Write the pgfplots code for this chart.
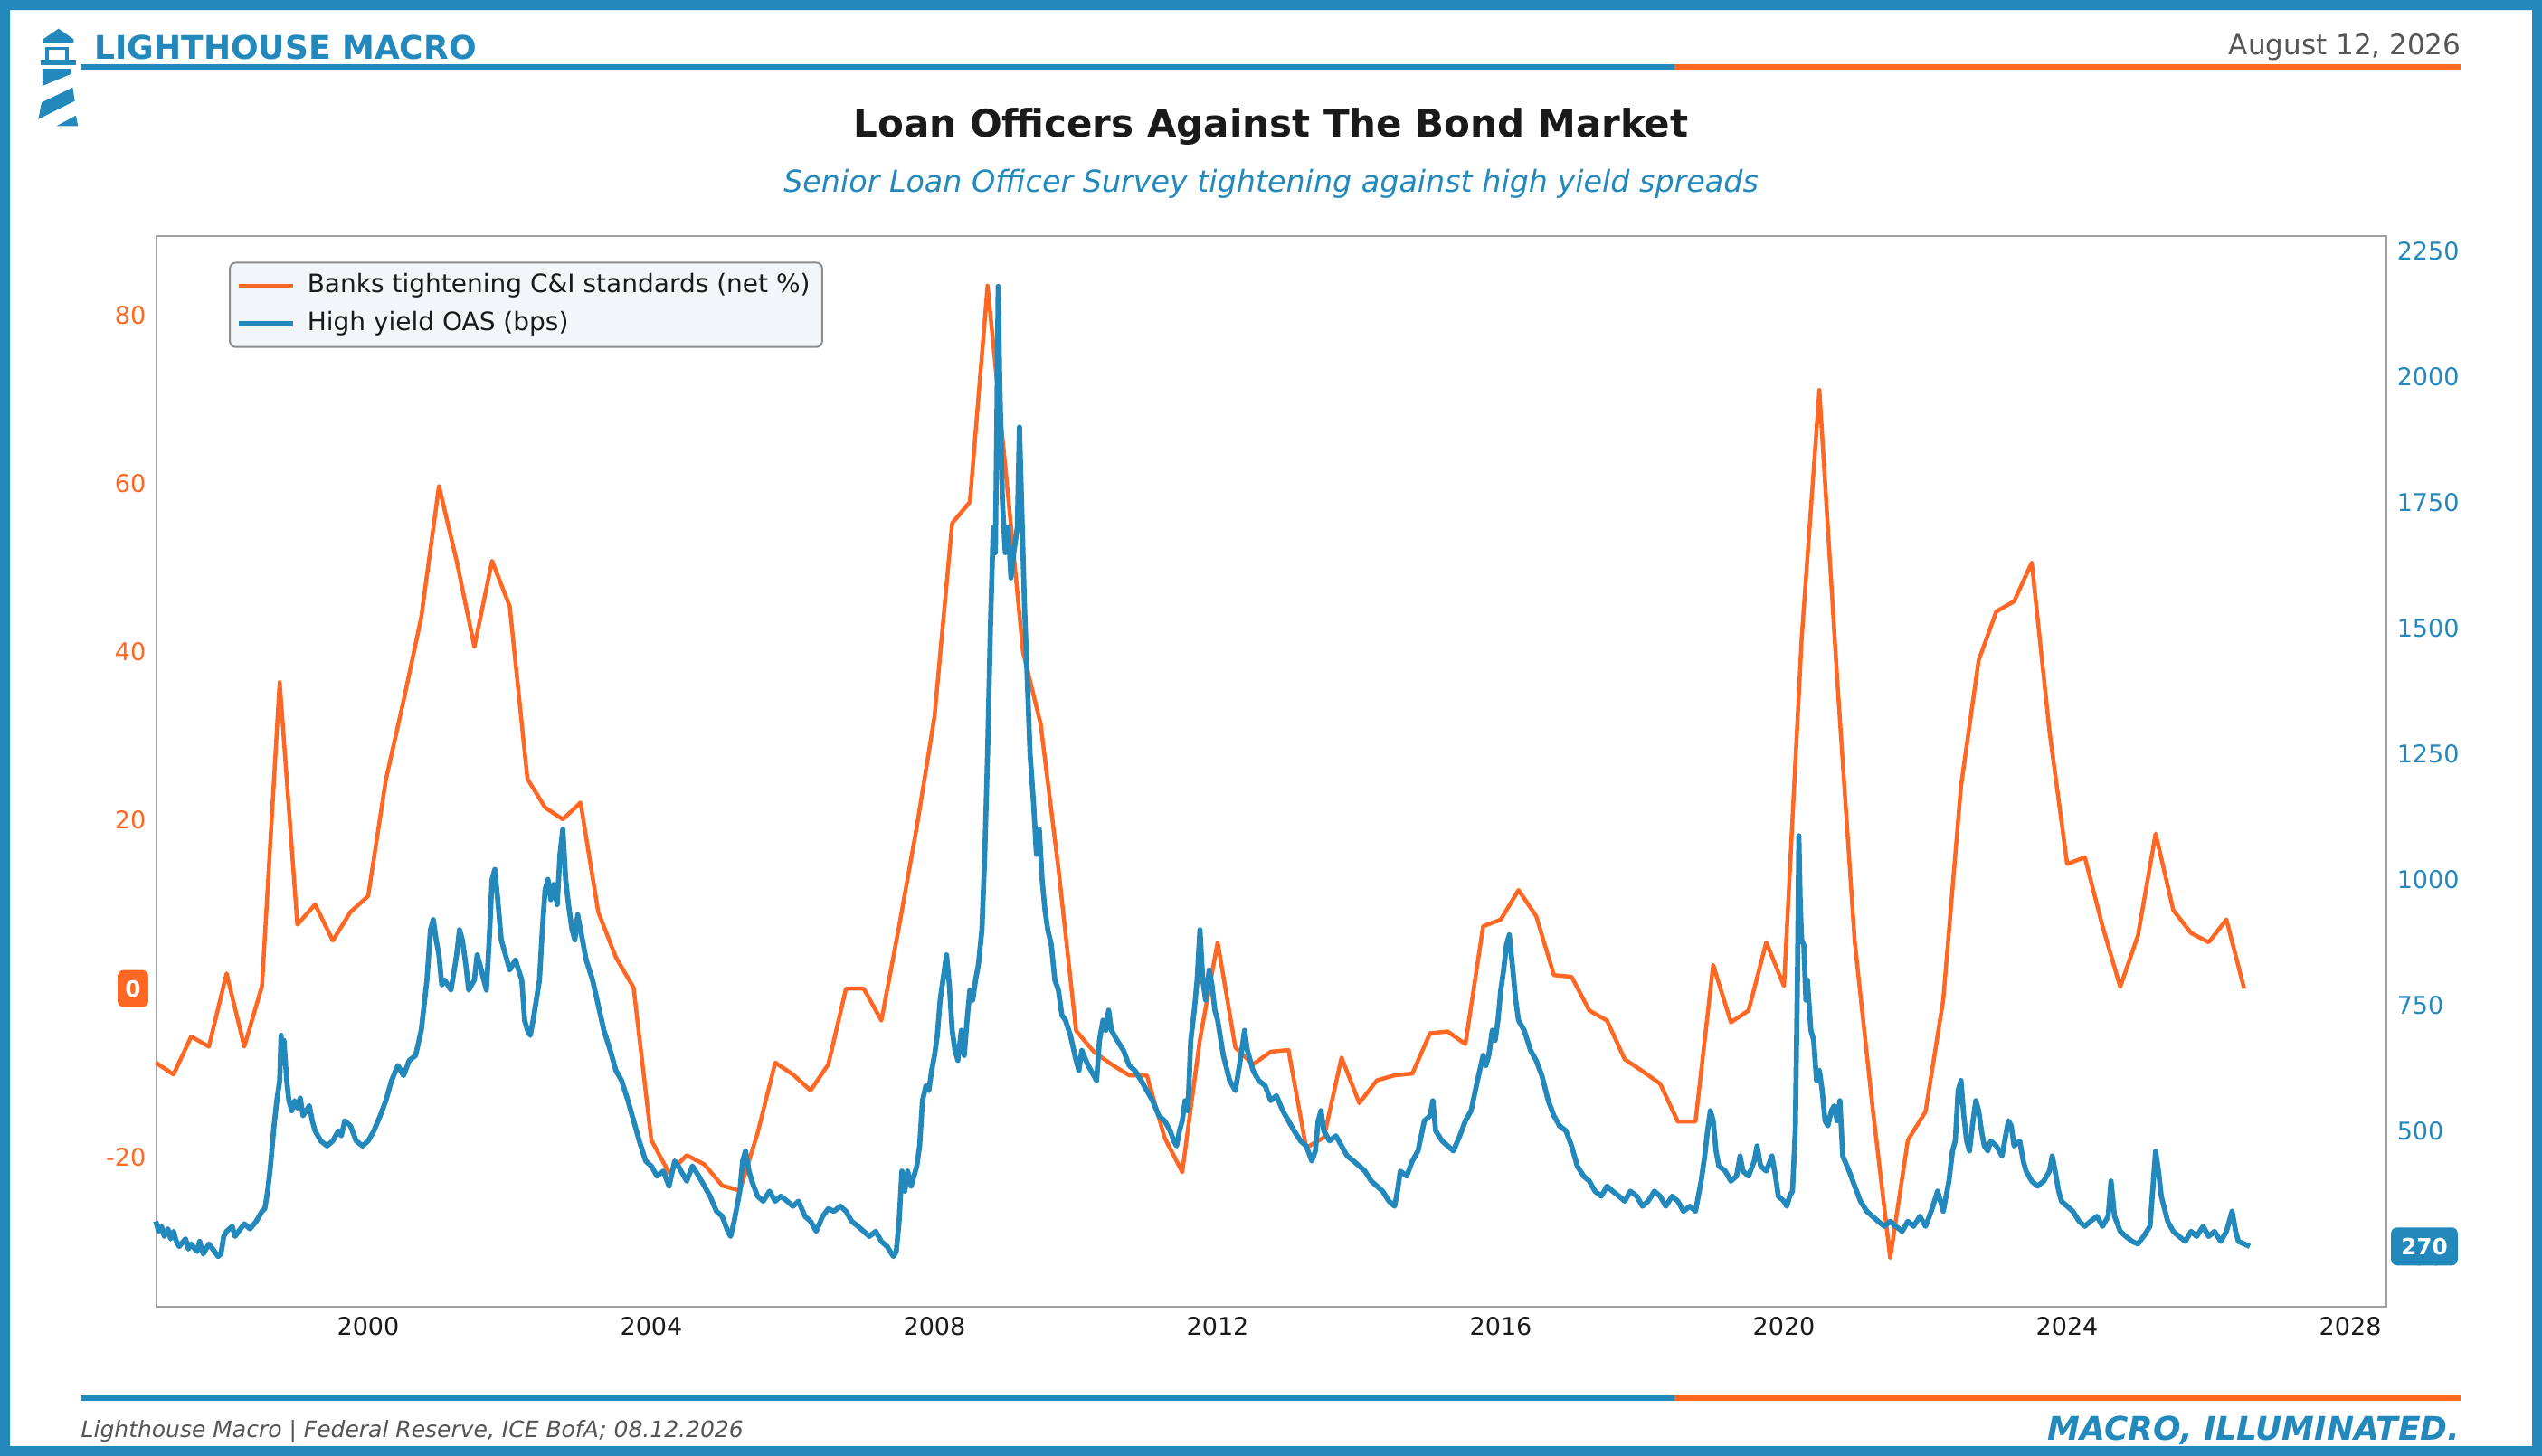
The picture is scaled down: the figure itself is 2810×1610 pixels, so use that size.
\documentclass[border=0pt]{standalone}
\usepackage{fontspec}
\setmainfont{DejaVu Sans}
\usepackage{pgfplots}
\pgfplotsset{compat=1.18}
\definecolor{lmblue}{RGB}{35,137,188}
\definecolor{lmorange}{RGB}{255,103,35}
\definecolor{lmgray}{RGB}{85,85,85}
\definecolor{lmdark}{RGB}{26,26,26}
\definecolor{framegray}{RGB}{160,160,160}
\definecolor{legfill}{RGB}{243,246,249}
\definecolor{legedge}{RGB}{140,140,140}

\pgfplotstableread{
x y
1997.00 -8.8
1997.25 -10.2
1997.50 -5.7
1997.75 -6.9
1998.00 1.8
1998.25 -6.9
1998.50 0.3
1998.75 36.4
1999.00 7.6
1999.25 10.0
1999.50 5.7
1999.75 9.1
2000.00 11.0
2000.25 24.8
2000.50 34.2
2000.75 44.1
2001.00 59.7
2001.25 50.8
2001.50 40.6
2001.75 50.8
2002.00 45.4
2002.25 24.9
2002.50 21.5
2002.75 20.1
2003.00 22.1
2003.25 9.1
2003.50 3.7
2003.75 0.1
2004.00 -18.0
2004.25 -21.9
2004.50 -19.8
2004.75 -20.9
2005.00 -23.4
2005.25 -24.0
2005.50 -17.2
2005.75 -8.8
2006.00 -10.2
2006.25 -12.1
2006.50 -9.0
2006.75 0.0
2007.00 0.0
2007.25 -3.8
2007.50 7.4
2007.75 19.2
2008.00 32.3
2008.25 55.3
2008.50 57.8
2008.75 83.5
2009.00 62.0
2009.25 40.0
2009.50 31.4
2009.75 14.3
2010.00 -5.0
2010.25 -7.5
2010.50 -9.0
2010.75 -10.3
2011.00 -10.3
2011.25 -17.7
2011.50 -21.8
2011.75 -6.0
2012.00 5.5
2012.25 -7.0
2012.50 -9.0
2012.75 -7.5
2013.00 -7.3
2013.25 -18.9
2013.50 -17.7
2013.75 -8.2
2014.00 -13.6
2014.25 -10.9
2014.50 -10.3
2014.75 -10.1
2015.00 -5.3
2015.25 -5.1
2015.50 -6.6
2015.75 7.4
2016.00 8.2
2016.25 11.7
2016.50 8.6
2016.75 1.6
2017.00 1.4
2017.25 -2.6
2017.50 -3.8
2017.75 -8.4
2018.00 -9.8
2018.25 -11.3
2018.50 -15.8
2018.75 -15.8
2019.00 2.8
2019.25 -4.0
2019.50 -2.6
2019.75 5.5
2020.00 0.3
2020.25 41.6
2020.50 71.1
2020.75 37.0
2021.00 5.5
2021.25 -14.0
2021.50 -32.0
2021.75 -18.0
2022.00 -14.6
2022.25 -1.3
2022.50 24.0
2022.75 39.0
2023.00 44.8
2023.25 46.0
2023.50 50.6
2023.75 30.6
2024.00 14.8
2024.25 15.6
2024.50 7.4
2024.75 0.2
2025.00 6.3
2025.25 18.4
2025.50 9.3
2025.75 6.6
2026.00 5.5
2026.25 8.2
2026.50 0.0
}\sloos

\pgfplotstableread{
x y
1997.00 320
1997.04 300
1997.08 310
1997.12 290
1997.17 305
1997.21 285
1997.25 300
1997.29 280
1997.33 270
1997.42 285
1997.46 265
1997.50 275
1997.58 260
1997.62 280
1997.67 255
1997.75 275
1997.83 260
1997.88 250
1997.92 255
1997.96 290
1998.00 300
1998.08 310
1998.12 290
1998.17 300
1998.25 315
1998.33 305
1998.42 320
1998.50 340
1998.54 345
1998.58 380
1998.62 430
1998.67 510
1998.71 560
1998.75 600
1998.77 690
1998.79 640
1998.81 680
1998.85 600
1998.88 560
1998.92 540
1998.96 560
1999.00 545
1999.04 565
1999.08 530
1999.17 550
1999.21 520
1999.25 500
1999.33 480
1999.42 470
1999.50 480
1999.58 500
1999.62 490
1999.67 520
1999.75 510
1999.83 480
1999.92 470
2000.00 480
2000.08 500
2000.17 530
2000.25 560
2000.33 600
2000.42 630
2000.50 610
2000.58 640
2000.67 650
2000.75 700
2000.83 800
2000.88 900
2000.92 920
2000.96 880
2001.00 850
2001.04 790
2001.08 800
2001.17 780
2001.25 850
2001.29 900
2001.33 880
2001.38 830
2001.42 780
2001.50 800
2001.54 850
2001.58 830
2001.67 780
2001.71 880
2001.75 1000
2001.79 1020
2001.83 960
2001.88 880
2001.92 860
2002.00 820
2002.08 840
2002.17 800
2002.21 720
2002.25 700
2002.29 690
2002.33 720
2002.42 800
2002.46 900
2002.50 980
2002.54 1000
2002.58 960
2002.62 990
2002.67 950
2002.71 1050
2002.75 1100
2002.79 1000
2002.83 950
2002.88 900
2002.92 880
2002.96 930
2003.00 900
2003.08 840
2003.17 800
2003.25 750
2003.33 700
2003.42 660
2003.50 620
2003.58 600
2003.67 560
2003.75 520
2003.83 480
2003.92 440
2004.00 430
2004.08 410
2004.17 420
2004.25 390
2004.33 440
2004.38 430
2004.42 420
2004.50 400
2004.58 430
2004.67 410
2004.75 390
2004.83 370
2004.92 340
2005.00 330
2005.08 300
2005.12 290
2005.17 320
2005.25 380
2005.29 440
2005.33 460
2005.38 420
2005.42 400
2005.50 370
2005.58 360
2005.67 380
2005.75 360
2005.83 370
2005.92 360
2006.00 350
2006.08 360
2006.17 330
2006.25 320
2006.33 300
2006.42 330
2006.50 345
2006.58 340
2006.67 350
2006.75 340
2006.83 320
2006.92 310
2007.00 300
2007.08 290
2007.17 300
2007.25 280
2007.33 270
2007.42 250
2007.46 260
2007.50 320
2007.54 420
2007.58 380
2007.62 420
2007.67 390
2007.75 430
2007.79 470
2007.83 560
2007.88 590
2007.92 580
2007.96 620
2008.00 650
2008.04 690
2008.08 760
2008.12 800
2008.17 850
2008.21 790
2008.25 700
2008.29 660
2008.33 640
2008.38 700
2008.42 650
2008.46 720
2008.50 780
2008.54 760
2008.58 800
2008.62 830
2008.67 900
2008.71 1050
2008.75 1250
2008.79 1500
2008.83 1700
2008.86 1650
2008.88 1900
2008.90 2180
2008.92 2000
2008.96 1750
2009.00 1650
2009.04 1700
2009.08 1600
2009.12 1650
2009.17 1700
2009.20 1900
2009.23 1750
2009.27 1550
2009.31 1400
2009.35 1250
2009.40 1150
2009.44 1050
2009.48 1100
2009.52 1000
2009.56 940
2009.60 900
2009.65 870
2009.70 800
2009.75 780
2009.80 730
2009.85 720
2009.92 690
2010.00 640
2010.04 620
2010.08 660
2010.17 630
2010.25 610
2010.29 600
2010.33 680
2010.38 720
2010.42 700
2010.46 740
2010.50 700
2010.58 680
2010.67 660
2010.75 630
2010.83 620
2010.92 600
2011.00 580
2011.08 560
2011.17 530
2011.25 520
2011.33 500
2011.38 480
2011.42 470
2011.46 500
2011.50 520
2011.54 560
2011.58 540
2011.62 680
2011.67 740
2011.71 800
2011.75 900
2011.79 800
2011.83 760
2011.88 820
2011.92 790
2011.96 740
2012.00 720
2012.08 650
2012.17 600
2012.25 580
2012.33 650
2012.38 700
2012.42 660
2012.50 620
2012.58 600
2012.67 590
2012.75 560
2012.83 570
2012.92 540
2013.00 520
2013.08 500
2013.17 480
2013.25 470
2013.33 440
2013.38 460
2013.42 520
2013.46 540
2013.50 500
2013.58 480
2013.67 490
2013.75 470
2013.83 450
2013.92 440
2014.00 430
2014.08 420
2014.17 400
2014.25 390
2014.33 380
2014.42 360
2014.50 350
2014.54 380
2014.58 420
2014.67 410
2014.75 440
2014.83 460
2014.92 520
2015.00 530
2015.04 560
2015.08 500
2015.17 480
2015.25 470
2015.33 460
2015.42 490
2015.50 520
2015.58 540
2015.67 600
2015.75 650
2015.79 630
2015.83 650
2015.88 700
2015.92 680
2015.96 720
2016.00 780
2016.04 820
2016.08 870
2016.12 890
2016.17 820
2016.21 760
2016.25 720
2016.33 700
2016.42 660
2016.50 640
2016.58 610
2016.67 560
2016.75 530
2016.83 510
2016.92 500
2017.00 470
2017.08 430
2017.17 410
2017.25 400
2017.33 380
2017.42 370
2017.50 390
2017.58 380
2017.67 370
2017.75 360
2017.83 380
2017.92 370
2018.00 350
2018.08 360
2018.17 380
2018.25 370
2018.33 350
2018.42 370
2018.50 360
2018.58 340
2018.67 350
2018.75 340
2018.83 400
2018.88 450
2018.92 500
2018.96 540
2019.00 520
2019.04 460
2019.08 430
2019.17 420
2019.25 400
2019.33 410
2019.38 450
2019.42 420
2019.50 410
2019.58 440
2019.62 470
2019.67 430
2019.75 420
2019.83 450
2019.88 410
2019.92 370
2020.00 360
2020.04 350
2020.08 370
2020.12 380
2020.16 500
2020.19 800
2020.21 1087
2020.23 950
2020.25 880
2020.28 870
2020.31 760
2020.33 800
2020.38 700
2020.42 680
2020.46 600
2020.50 620
2020.54 580
2020.58 520
2020.62 510
2020.67 540
2020.71 550
2020.75 520
2020.79 560
2020.83 450
2020.92 420
2021.00 390
2021.08 360
2021.17 340
2021.25 330
2021.33 320
2021.42 310
2021.50 320
2021.58 310
2021.67 300
2021.75 320
2021.83 310
2021.92 330
2022.00 310
2022.08 340
2022.17 380
2022.21 360
2022.25 340
2022.33 400
2022.38 460
2022.42 480
2022.46 580
2022.50 600
2022.54 530
2022.58 480
2022.62 460
2022.67 520
2022.71 560
2022.75 540
2022.79 500
2022.83 470
2022.88 460
2022.92 480
2023.00 470
2023.08 450
2023.17 520
2023.21 510
2023.25 470
2023.33 480
2023.38 440
2023.42 420
2023.50 400
2023.58 390
2023.67 400
2023.75 420
2023.79 450
2023.83 420
2023.88 380
2023.92 360
2024.00 350
2024.08 340
2024.17 320
2024.25 310
2024.33 320
2024.42 330
2024.50 310
2024.58 330
2024.62 400
2024.67 330
2024.75 300
2024.83 290
2024.92 280
2025.00 275
2025.08 290
2025.17 310
2025.25 460
2025.29 420
2025.33 370
2025.42 320
2025.50 300
2025.58 290
2025.67 280
2025.75 300
2025.83 290
2025.92 310
2026.00 290
2026.08 300
2026.17 280
2026.25 300
2026.33 340
2026.38 300
2026.42 280
2026.50 275
2026.58 270
}\hyoas

\begin{document}
\begin{tikzpicture}[x=0.3pt,y=-0.3pt]
\useasboundingbox (0,0) rectangle (2810,1610);
\fill[white] (0,0) rectangle (2810,1610);
\fill[lmblue,even odd rule] (0,0) rectangle (2810,1610) (11,11) rectangle (2799,1599);

% logo
\fill[lmblue] (47.8,43.3) -- (64.7,31.7) -- (81.3,43.3) -- (81.3,47.3) -- (47.8,47.3) -- cycle;
\fill[lmblue] (50,52) rectangle (76,55);
\fill[lmblue] (50,52) rectangle (54,67);
\fill[lmblue] (72,52) rectangle (76,67);
\fill[lmblue] (44.6,66) rectangle (83.5,72);
\fill[lmblue] (46.9,76) -- (78.1,76) -- (79,81.7) -- (46.9,95) -- cycle;
\fill[lmblue] (46,113.3) -- (80.4,96.7) -- (82.6,111.7) -- (42.4,131.7) -- cycle;
\fill[lmblue] (62.5,139.3) -- (83.9,127.7) -- (86.2,139.3) -- cycle;

% header
\node[anchor=base west,inner sep=0,text=lmblue,font=\fontsize{10.8pt}{13pt}\selectfont\bfseries] at (104,65) {LIGHTHOUSE MACRO};
\node[anchor=base east,inner sep=0,text=lmgray,font=\fontsize{9.3pt}{11pt}\selectfont] at (2721,60) {August 12, 2026};
\fill[lmblue] (89,71) rectangle (1851,77);
\fill[lmorange] (1851,71) rectangle (2720,77);
\node[anchor=base,inner sep=0,text=lmdark,font=\fontsize{12.6pt}{15pt}\selectfont\bfseries] at (1405,151) {Loan Officers Against The Bond Market};
\node[anchor=base,inner sep=0,text=lmblue,font=\fontsize{10pt}{12pt}\selectfont\itshape] at (1405,212) {Senior Loan Officer Survey tightening against high yield spreads};

% footer
\fill[lmblue] (89,1543) rectangle (1851,1549);
\fill[lmorange] (1851,1543) rectangle (2720,1549);
\node[anchor=base west,inner sep=0,text=lmgray,font=\fontsize{7.5pt}{9pt}\selectfont\itshape] at (89,1589) {Lighthouse Macro | Federal Reserve, ICE BofA; 08.12.2026};
\node[anchor=base east,inner sep=0,text=lmblue,font=\fontsize{10.8pt}{13pt}\selectfont\bfseries\itshape] at (2720,1592) {MACRO, ILLUMINATED.};

\pgfplotsset{
  lmaxis/.style={
    at={(51.9pt,-433.5pt)}, anchor=south west,
    scale only axis, width=739.5pt, height=355.2pt,
    xmin=1997.01, xmax=2028.51,
    clip=false,
    major tick length=0pt,
    axis line style={framegray,line width=0.6pt},
    /pgf/number format/assume math mode=true,
    /pgf/number format/1000 sep={},
    tick label style={font=\fontsize{8.1pt}{9.7pt}\selectfont},
  }
}

\begin{axis}[lmaxis,
  ymin=-37.8, ymax=89.4,
  xtick={2000,2004,...,2028},
  ytick={-20,0,20,40,60,80},
  xticklabel style={text=lmdark},
  yticklabel style={text=lmorange},
  legend cell align=left,
  legend image code/.code={\draw[#1] (0pt,0pt) -- (18pt,0pt); \path (20pt,0pt);},
  legend style={at={(0.0325,0.976)}, anchor=north west,
    fill=legfill, draw=legedge, line width=0.6pt, rounded corners=2pt,
    font=\fontsize{8.4pt}{10pt}\selectfont, text=lmdark,
    inner xsep=2pt, inner ysep=1.6pt, row sep=0pt,
    nodes={inner sep=2pt, text height=6.4pt, text depth=2pt}},
]
\addplot[lmorange, line width=1.35pt, line join=round] table[x=x,y=y] {\sloos};
\addlegendentry{Banks tightening C\&I standards (net \%)}
\addlegendimage{lmblue, line width=1.7pt}
\addlegendentry{High yield OAS (bps)}
\node[fill=lmorange, text=white, rounded corners=2pt, inner xsep=2.5pt, minimum height=12.3pt,
  font=\fontsize{7.4pt}{8pt}\selectfont\bfseries] at (axis cs:1997.01,0) [xshift=-7.8pt] {0};
\end{axis}

\begin{axis}[lmaxis,
  ymin=150, ymax=2280,
  axis x line=none,
  axis y line*=right,
  ytick={250,500,...,2250},
  yticklabel style={text=lmblue},
]
\addplot[lmblue, line width=1.7pt, line join=round] table[x=x,y=y] {\hyoas};
\node[fill=lmblue, text=white, rounded corners=2pt, minimum width=20.7pt, minimum height=12.6pt,
  font=\fontsize{7.4pt}{8pt}\selectfont\bfseries] at (axis cs:2028.51,270) [xshift=12.6pt] {270};
\end{axis}
\end{tikzpicture}
\end{document}
